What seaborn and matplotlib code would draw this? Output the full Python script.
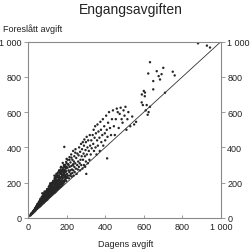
import pandas as pd
import seaborn as sns
import matplotlib.pyplot as plt

# Dagens avgift (x) og foreslått avgift (y), lest av figuren
dagens_avgift = [
    12, 15, 18, 20, 22, 25, 27, 30, 32, 35, 36, 38, 40, 14, 24, 28, 33, 37, 39, 16,
    42, 44, 45, 47, 48, 50, 52, 53, 55, 56, 58, 60, 60, 62, 63, 65, 66, 68, 68, 70,
    43, 46, 49, 51, 54, 57, 59, 61, 64, 67, 69, 41, 50, 55, 62, 66, 70,
    72, 72, 73, 75, 75, 76, 78, 78, 80, 80, 80, 82, 82, 83, 85, 85, 86, 88, 88, 90,
    90, 90, 92, 92, 94, 94, 95, 96, 98, 98, 99, 100, 100, 74, 77, 79, 81, 84, 87, 89,
    91, 93, 97, 74, 86,
    102, 102, 103, 105, 105, 106, 108, 108, 110, 110, 110, 112, 112, 114, 114, 115,
    116, 118, 118, 118, 120, 120, 120, 122, 122, 124, 124, 125, 126, 128, 128, 128,
    130, 130, 104, 107, 109, 111, 113, 117, 119, 121, 123, 127, 129, 126,
    132, 132, 133, 135, 135, 136, 138, 138, 140, 140, 140, 142, 142, 144, 144, 145,
    146, 148, 148, 150, 150, 150, 150, 152, 152, 154, 155, 156, 156, 158, 158, 160,
    160, 134, 137, 139, 141, 143, 147, 149, 151, 153, 157, 159,
    162, 162, 164, 165, 166, 166, 168, 170, 170, 172, 172, 174, 175, 176, 178, 178,
    180, 180, 180, 182, 184, 184, 185, 186, 188, 188, 190, 190, 192, 194, 195, 196,
    198, 198, 200, 200, 163, 167, 171, 173, 177, 179, 183, 187, 189, 193, 197, 199,
    202, 204, 205, 206, 208, 210, 210, 212, 214, 215, 216, 218, 220, 220, 222, 224,
    225, 226, 228, 230, 230, 232, 234, 235, 236, 238, 240, 240, 242, 245, 246, 248,
    250, 252, 255, 256, 258, 260,
    262, 264, 265, 268, 270, 270, 272, 275, 276, 278, 280, 282, 284, 285, 288, 290,
    290, 292, 295, 296, 298, 300, 300, 304, 305, 308, 310, 312, 315, 318, 320, 322,
    325, 328, 330, 302,
    335, 338, 340, 342, 345, 348, 350, 352, 355, 358, 360, 362, 365, 370, 372, 375,
    378, 380, 385, 388, 390, 395, 398, 400, 405, 408, 410, 412, 415, 420, 425, 430,
    435, 440, 445, 450,
    455, 460, 465, 470, 475, 480, 485, 490, 495, 500, 505, 510, 515, 520, 530, 540,
    550, 560,
    590, 595, 600, 605, 610, 615, 620, 625, 632, 589, 606,
    632, 623, 667, 649, 649, 677, 692, 701, 684, 710, 750, 760,
    881, 927, 943, 188,
    # tettere sky nær origo
    20, 26, 31, 34, 29, 23, 18, 38, 44, 48, 52, 57, 61, 65, 69, 46, 53, 58, 63, 67,
    71, 76, 81, 86, 91, 96, 73, 79, 84, 89, 94, 99, 104, 109, 114, 119, 124, 129,
    106, 111, 116, 121, 127, 131, 136, 141, 146, 151, 156, 134, 139, 144, 149, 154,
    159, 161, 166, 171, 176, 181, 186, 191, 196, 165, 175, 185, 195, 170, 180, 190,
    200, 45, 56, 64, 88, 95, 103, 115, 125, 137, 147, 158, 168, 178, 188, 198,
    208, 215, 225, 235, 245,
]
foreslatt_avgift = [
    14, 20, 22, 28, 25, 35, 30, 38, 44, 40, 50, 46, 55, 18, 32, 41, 36, 55, 43, 24,
    50, 60, 68, 55, 72, 62, 58, 78, 66, 85, 70, 64, 90, 76, 98, 72, 88, 80, 104, 75,
    64, 52, 80, 70, 60, 92, 82, 68, 86, 95, 110, 46, 56, 75, 100, 70, 92,
    80, 100, 118, 85, 108, 126, 90, 112, 84, 100, 130, 95, 118, 140, 92, 110, 128, 100, 145, 96,
    118, 135, 104, 150, 112, 128, 100, 140, 108, 122, 158, 104, 132, 95, 102, 122, 88, 104, 116, 132,
    110, 138, 115, 140, 150,
    112, 140, 165, 115, 130, 150, 120, 178, 118, 140, 160, 128, 185, 122, 148, 170,
    135, 126, 158, 190, 130, 145, 172, 138, 198, 132, 160, 180, 142, 136, 168, 200,
    140, 155, 122, 138, 168, 124, 158, 140, 178, 152, 186, 150, 176, 195,
    148, 175, 210, 142, 160, 190, 150, 222, 145, 170, 200, 158, 185, 150, 230, 175,
    205, 160, 188, 158, 172, 215, 245, 168, 196, 180, 230, 165, 208, 175, 195, 170,
    222, 168, 182, 160, 212, 194, 172, 232, 185, 210, 240, 186,
    180, 238, 195, 215, 175, 260, 190, 205, 230, 180, 250, 198, 270, 215, 188, 240,
    200, 225, 285, 210, 195, 255, 240, 275, 205, 230, 215, 260, 300, 220, 245, 280,
    210, 265, 235, 310, 205, 228, 192, 262, 230, 210, 268, 248, 290, 236, 228, 290,
    250, 228, 285, 330, 240, 270, 300, 225, 260, 345, 290, 240, 315, 270, 250, 360,
    295, 235, 275, 330, 255, 300, 380, 270, 240, 320, 290, 350, 260, 310, 390, 280,
    340, 250, 300, 365, 275, 320,
    355, 290, 400, 310, 270, 375, 330, 420, 300, 350, 390, 280, 430, 330, 365, 300,
    410, 445, 350, 290, 385, 320, 430, 460, 360, 400, 310, 440, 380, 330, 470, 410,
    360, 440, 395, 250,
    470, 420, 500, 380, 455, 520, 400, 480, 360, 440, 530, 410, 490, 455, 380, 545,
    500, 430, 470, 560, 410, 520, 480, 440, 580, 500, 338, 460, 540, 600, 510, 470,
    560, 610, 520, 470,
    560, 620, 600, 510, 590, 625, 560, 540, 610, 580, 630, 500, 560, 600, 520, 575,
    530, 545,
    700, 640, 720, 690, 610, 640, 585, 600, 630, 655, 711,
    883, 819, 832, 776, 729, 804, 815, 851, 785, 710, 829, 808,
    990, 977, 966, 403,
    # tettere sky nær origo
    23, 30, 40, 48, 34, 27, 25, 58, 66, 74, 80, 88, 95, 102, 100, 58, 64, 84, 73, 82,
    118, 115, 128, 138, 146, 150, 108, 92, 122, 126, 140, 164, 128, 155, 160, 175, 190, 205,
    145, 172, 180, 192, 188, 210, 200, 215, 228, 200, 240, 198, 228, 238, 205, 255,
    215, 270, 250, 290, 245, 275, 300, 270, 290, 225, 232, 250, 262, 285, 312, 300,
    335, 62, 72, 108, 124, 128, 150, 196, 168, 240, 250, 260, 272, 262, 292, 318,
    305, 330, 342, 305, 370,
]

tick_values = [0, 200, 400, 600, 800, 1000]
tick_labels = ["0", "200", "400", "600", "800", "1 000"]

df = pd.DataFrame({"dagens": dagens_avgift, "foreslatt": foreslatt_avgift})

sns.set_style("white")
plt.rcParams['font.family'] = ['Liberation Sans', 'DejaVu Sans']

fig = plt.figure(figsize=(2.5, 2.51), dpi=100)
ax = fig.add_axes([0.112, 0.1275, 0.772, 0.703])

sns.scatterplot(data=df, x="dagens", y="foreslatt", s=3, color="#262626",
                edgecolor="none", linewidth=0, ax=ax, legend=False)
ax.axline((0, 0), slope=1, color="#333333", lw=0.6)

ax.set_xlim(0, 1000)
ax.set_ylim(0, 1000)
ax.set_xticks(tick_values)
ax.set_xticklabels(tick_labels)
ax.set_yticks(tick_values)
ax.set_yticklabels(tick_labels)
ax.set_xlabel("")
ax.set_ylabel("")

for side in ["left", "right", "top", "bottom"]:
    ax.spines[side].set_visible(True)
    ax.spines[side].set_color("#8a8a8a")
    ax.spines[side].set_linewidth(0.8)

ax.tick_params(axis="y", direction="out", length=3, width=0.6, color="#8a8a8a",
               left=True, right=True, labelleft=True, labelright=True,
               labelsize=6.5, pad=1.5, labelcolor="#222222")
ax.tick_params(axis="x", direction="in", length=2, width=0.6, color="#8a8a8a",
               bottom=True, labelsize=6.5, pad=3, labelcolor="#222222")

fig.text(0.522, 0.96, "Engangsavgiften", ha="center", va="center",
         fontsize=10, color="#222222")
fig.text(0.012, 1 - 29 / 251, "Foreslått avgift", ha="left", va="center",
         fontsize=6.5, color="#222222")
fig.text(0.502, 1 - 245 / 251, "Dagens avgift", ha="center", va="center",
         fontsize=6.5, color="#222222")

fig.savefig("out.png", dpi=100)
